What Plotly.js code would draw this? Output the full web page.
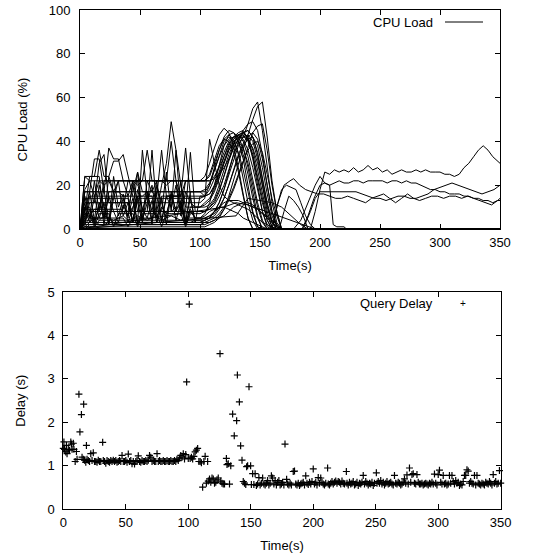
<!DOCTYPE html>
<html>
<head>
<meta charset="utf-8">
<script src="https://cdn.plot.ly/plotly-3.0.1.min.js"></script>
<style>html,body{margin:0;padding:0;background:#fff;}#chart{width:540px;height:558px;}</style>
</head>
<body>
<div id="chart"></div>
<script>
// ---------- CPU load: time grid shared by the node series ----------
var gridTime = [0,4,8,12,16,20,24,28,32,36,40,44,48,52,56,60,64,68,72,76,80,84,88,92,96,100,104,108,112,116,120,124,128,132,136,140,144,148,152,156,160,164,168,350];

var cpu01 = [0,24,24,24,36,24,24,17,17,15,15,3,15,15,17,17,15,3,15,15,15,15,3,17, 17,17,15,16,20,26,33,39,42,43,41,36,28,18,8,2,0,0,0, 0];
var cpu02 = [0,5,17,32,32,17,37,32,32,22,22,22,22,5,22,22,22,22,22,22,22,8,22,22, 22,22,22,24,30,36,41,43,44,42,37,28,17,6,0,0,0,0,0, 0];
var cpu03 = [0,8,24,24,24,5,24,31,31,34,25,15,15,15,15,15,3,15,15,15,15,15,15,15, 3,15,15,20,28,36,42,45,44,40,32,20,8,1,0,0,0,0,0, 0];
var cpu04 = [0,10,10,3,10,10,8,8,8,8,8,8,26,8,8,36,8,8,8,8,10,10,2,10, 10,10,12,14,18,24,30,36,40,42,42,41,37,30,20,10,3,0,0, 0];
var cpu05 = [0,3,3,5,5,5,5,5,5,5,1,5,5,5,5,5,8,20,30,49,36,20,10,10, 10,10,10,11,14,20,27,34,39,42,43,40,33,23,12,4,0,0,0, 0];
var cpu06 = [0,2,15,15,15,15,15,15,15,15,15,15,3,36,15,15,15,36,15,15,15,15,37,15, 15,15,15,16,19,25,31,37,41,43,44,41,34,24,13,4,0,0,0, 0];
var cpu07 = [0,0,2,2,2,2,3,3,3,3,3,3,3,3,3,3,3,3,3,3,3,3,3,3, 3,3,4,5,8,12,18,25,32,38,42,48,55,58,45,28,12,3,0, 0];
var cpu08 = [0,1,1,1,4,4,4,4,4,4,4,4,4,4,4,4,4,4,4,4,4,4,4,4, 4,4,4,5,6,9,14,20,27,34,39,43,50,56,58,42,22,8,0, 0];
var cpu09 = [0,6,6,9,9,9,9,9,9,9,22,22,22,22,22,22,22,22,22,22,22,22,22,22, 22,22,22,22,23,25,28,32,37,41,45,48,49,45,34,20,8,1,0, 0];
var cpu10 = [0,17,17,17,17,2,17,17,17,17,17,17,17,17,17,4,17,17,17,17,17,17,17,17, 17,17,17,20,27,34,40,42,40,35,27,17,7,1,0,0,0,0,0, 0];
var cpu11 = [0,3,12,12,30,34,12,12,12,12,12,8,8,8,8,8,8,8,26,8,8,8,8,35, 8,8,8,10,13,18,24,31,37,41,44,45,42,35,24,12,4,0,0, 0];
var cpu12 = [0,24,22,22,22,22,22,22,22,22,22,22,22,22,22,22,22,22,22,22,22,22,22,22, 22,22,22,25,32,38,41,40,35,26,15,5,0,0,0,0,0,0,0, 0];
var cpu13 = [0,5,8,8,8,8,8,8,8,8,8,20,8,8,8,8,8,8,8,8,36,8,8,8, 8,8,8,10,12,17,24,32,39,43,44,42,36,27,16,6,1,0,0, 0];
var cpu14 = [0,12,12,12,12,12,12,12,12,12,12,12,12,12,12,12,12,12,12,12,12,12,12,12, 12,12,14,41,30,20,15,13,12,11,10,9,7,5,3,2,1,0,0, 0];
var cpu15 = [0,1,3,3,3,3,3,3,3,3,3,3,3,3,3,3,3,3,3,3,3,3,3,3, 3,3,4,5,8,12,18,26,34,40,44,45,42,34,22,11,3,0,0, 0];
var cpu16 = [0,14,14,14,14,14,14,14,14,14,14,3,14,14,14,14,14,14,14,14,14,14,14,14, 14,14,15,18,23,29,35,40,42,43,40,33,23,12,4,0,0,0,0, 0];
var cpu17 = [0,2,5,5,5,5,5,3,3,3,3,3,3,3,3,3,3,3,3,3,3,3,3,3, 4,4,5,6,8,10,12,13,13,13,12,11,10,9,7,6,4,2,0, 0];
var cpu18 = [0,1,1,1,1,1,1,1,1,1,1,1,1,1,1,1,1,1,1,1,1,1,1,1, 1,1,1,2,3,5,9,15,22,30,37,42,44,41,32,20,8,2,0, 0];
var cpu19 = [0,9,9,9,9,22,22,22,22,22,22,22,22,22,36,22,22,22,22,40,22,22,22,22, 22,22,24,30,37,43,46,44,38,28,16,5,0,0,0,0,0,0,0, 0];
var cpu20 = [0,7,7,1,7,7,7,1,7,7,7,7,1,7,7,7,7,1,7,7,7,7,1,7, 7,7,8,9,11,15,20,27,34,39,42,43,40,32,20,8,1,0,0, 0];
var cpu21 = [0,17,17,17,17,17,17,17,17,17,17,17,26,17,17,17,17,17,17,17,17,17,17,17, 17,17,18,21,27,33,38,41,42,40,34,25,14,5,0,0,0,0,0, 0];
var cpu22 = [0,4,4,4,2,2,2,2,2,2,2,2,2,2,2,2,2,2,2,2,2,2,2,2, 2,2,3,3,4,5,6,8,10,11,12,12,11,9,7,5,3,1,0, 0];
var cpu23 = [0,10,3,15,5,12,2,17,6,14,3,10,15,4,12,20,5,14,2,16,8,13,3,9, 5,5,5,6,7,10,14,20,27,33,38,41,42,38,28,16,6,1,0, 0];
var cpu24 = [0,15,5,22,8,18,3,24,10,16,5,22,12,3,17,8,22,4,15,10,20,6,17,12, 10,10,11,13,17,23,30,36,39,40,37,30,20,10,3,0,0,0,0, 0];
var cpu25 = [0,8,17,4,20,10,2,14,22,6,12,3,18,9,15,2,20,12,5,17,8,22,4,14, 3,3,3,4,5,7,10,14,19,25,31,36,39,40,35,25,14,6,0, 0];
var cpu26 = [0,3,9,2,12,5,15,8,3,11,6,14,2,9,5,13,3,10,7,15,4,12,2,8, 5,5,7,12,20,29,38,43,41,34,23,12,4,0,0,0,0,0,0, 0];
var cpu27 = [0,2,2,2,2,2,2,2,2,2,2,2,2,2,2,2,2,2,2,2,2,2,2,2, 2,2,2,3,4,6,9,13,18,24,31,38,44,47,48,36,20,8,0, 0];
var cpu28 = [0,18,22,15,22,20,22,17,22,22,15,22,20,22,22,17,22,22,20,22,22,15,22,22, 22,22,22,22,24,28,33,38,42,44,45,41,32,20,8,1,0,0,0, 0];
var cpu29 = [0,4,6,5,4,6,5,4,5,6,4,5,6,5,4,5,6,4,5,6,5,4,5,5, 5,5,6,8,9,10,10,9,8,7,5,4,3,2,1,0,0,0,0, 0];

// ---------- CPU load: late-running nodes (own time stamps) ----------
var lateAx = [0,192,196,200,204,208,212,216,220,224,228,232,236,240,244,248,252,256,260,264,268,272,276,280,284,288,292,296,300,304,308,312,316,320,324,328,332,336,340,344,348,350];
var lateAy = [0,0,8,18,26,25,27,26,27,26,28,26,27,29,27,28,26,27,25,26,27,26,26,27,26,27,26,26,26,25,25,24,25,28,30,33,36,38,36,33,31,30];
var lateBx = [0,185,190,195,200,204,208,212,216,220,224,228,232,236,240,244,248,252,256,260,264,268,272,276,280,284,288,292,296,300,304,308,312,316,320,324,328,332,336,340,344,348,350];
var lateBy = [0,0,6,14,20,21,20,21,22,21,21,22,22,21,22,22,22,22,21,22,22,21,22,21,21,20,19,18,18,17,17,16,16,16,15,15,14,14,13,13,12,13,14];
var lateCx = [0,186,192,196,200,205,210,215,220,225,230,235,240,245,250,255,260,265,270,275,280,285,290,295,300,305,310,315,320,325,330,335,340,345,350];
var lateCy = [0,0,8,14,17,17,17,17,17,17,17,16,15,14,14,13,14,15,15,14,14,15,16,18,19,20,21,20,19,18,17,16,17,18,20];
var lateDx = [0,160,165,170,175,178,183,188,193,198,203,208,213,218,223,228,233,238,243,248,253,258,263,268,273,278,283,288,293,298,303,308,313,318,323,328,333,338,343,348,350];
var lateDy = [0,0,12,20,22,23,20,18,17,16,16,15,14,14,15,14,13,12,14,15,16,14,12,14,16,14,13,14,15,15,14,15,15,14,15,14,13,12,11,13,13];
var lateEx = [0,160,164,168,172,176,180,184,188,192,196,350];
var lateEy = [0,0,10,18,20,19,18,12,6,2,0,0];
var lateFx = [0,178,184,190,196,200,204,208,211,214,220,222,350];
var lateFy = [0,0,4,12,20,24,21,20,2,1,1,0,0];
var lateGx = [0,120,130,140,150,160,170,180,190,196,350];
var lateGy = [0,10,12,11,9,7,5,3,1,0,0];
var lateHx = [0,130,140,150,160,168,176,184,190,350];
var lateHy = [0,6,14,13,12,10,6,2,0,0];
var lateIx = [0,166,170,174,178,182,186,190,350];
var lateIy = [0,0,8,15,13,10,6,0,0];

// ---------- Query delay ----------
var delayTime = [0,0.5,1,2,2.5,3,4,5,6,6.5,7,8,8.5,9.5,10.5,11,12.5,13.3,14.5,16.3,18.5,15,16,17,18,19,20,21,22,23,24,25,26,27,28,29,30,31.5,32,33,34,35,36,37,38,39,40,41,42,43,44,45,46,47,48,49,50,51,52,53,54,55,56,57,58,59,60,61,62,63,64,65,66,67,68,69,70,71,72,73,74,75,76,77,78,79,80,81,82,83,84,85,86,87,88,89,90,91,92,93,94,95,96,97,98,98.7,100.8,100,101.5,102.5,103.5,104.5,105.5,106.5,107.5,108.5,109.5,110.5,111.5,112.5,113.5,114.5,115.5,116,117,118,119,120,121,122,123,124,125.4,126,127,128,129,130.5,131,132,133,134,135.5,136.8,138.7,139.3,140.9,141.9,143,144,145,146,146.7,147.5,148.6,149.9,150.5,151.5,152.5,153.5,154.5,155.5,156.5,157.5,158.5,159.5,160.5,161.5,162.5,163.5,164.5,165.5,166.5,167.5,168.5,169.5,170.5,171.5,172.5,173.5,174.5,175.5,176.5,177.4,178.7,179.5,180.5,181.5,182.5,184,185,186,187,188,189,190,191,192,193,194,195,196,197,198,199,200,201,202,203,204,205,206,207,208,209,210,211.5,212,213,214,215,216,217,218,219,220,221,222,223,224,225,226.5,227,228,229,230,231,232,233,234,235,236,237,238,239,240,241,242,243,244,245,246,247,248,249,250.5,251,252,253,254,255,256,257,258,259,260,261,262,263,264,265,266,267,268,269,270,271,272,273,274,275,276,277,278,279,280,281,282,283,284,285,286,287,288,289,290,291,292,293,294,295,296,297,298,299,300,301,302,303,304,305,306,307,308,309,310,311,312,313,314,315,316,317,318,319,320,321,322,323,324,325,326,327,328,329,330,331,332,333,334,335,336,337,338,339,340,341,342,343,344,345,346,347,348,349,350];
var delaySec = [1.40,1.55,1.38,1.32,1.47,1.28,1.38,1.36,1.55,1.50,1.38,1.52,1.38,1.10,1.33,1.15,2.65,1.78,2.18,2.42,1.47,1.20,1.15,1.13,1.08,1.15,1.12,1.10,1.28,1.12,1.30,1.10,1.10,1.08,1.13,1.10,1.10,1.54,1.12,1.10,1.06,1.12,1.10,1.08,1.12,1.10,1.13,1.10,1.12,1.08,1.10,1.12,1.10,1.24,1.10,1.10,1.12,1.08,1.27,1.10,1.12,1.05,1.10,1.04,1.10,1.12,1.23,1.10,1.08,1.12,1.10,1.10,1.12,1.10,1.13,1.24,1.20,1.10,1.12,1.10,1.10,1.28,1.10,1.12,1.10,1.10,1.12,1.10,1.10,1.12,1.10,1.10,1.12,1.10,1.10,1.12,1.10,1.15,1.12,1.18,1.24,1.20,1.28,1.16,1.26,2.93,4.72,1.17,1.17,1.20,1.16,1.22,1.32,1.36,1.40,1.10,1.10,1.07,0.51,1.10,1.22,0.60,1.10,0.65,0.70,0.62,0.72,0.70,0.60,0.62,0.68,0.72,3.58,0.65,0.60,0.58,0.58,1.17,1.03,1.05,0.58,1.00,2.19,1.69,2.04,3.09,2.47,1.46,1.13,0.64,0.60,0.57,0.98,1.00,2.82,1.00,0.57,0.82,0.57,0.82,0.55,0.58,0.73,0.56,0.60,0.72,0.58,0.56,0.60,0.66,0.56,0.60,0.77,0.72,0.58,0.66,0.56,0.62,0.66,0.56,0.58,0.62,0.56,1.50,0.69,0.58,0.56,0.60,0.56,0.87,0.88,0.58,0.56,0.60,0.55,0.58,0.60,0.62,0.56,0.77,0.60,0.57,0.62,0.58,0.64,0.93,0.58,0.62,0.56,0.73,0.60,0.72,0.62,0.58,0.56,0.60,0.95,0.58,0.56,0.60,0.64,0.58,0.62,0.65,0.60,0.64,0.62,0.58,0.65,0.60,0.58,0.87,0.60,0.56,0.62,0.58,0.60,0.64,0.56,0.58,0.62,0.55,0.60,0.58,0.62,0.78,0.58,0.64,0.60,0.56,0.60,0.58,0.62,0.55,0.60,0.84,0.60,0.64,0.60,0.66,0.58,0.62,0.56,0.60,0.64,0.58,0.60,0.62,0.58,0.56,0.78,0.60,0.58,0.62,0.60,0.56,0.58,0.62,0.70,0.60,0.79,0.58,0.95,0.62,0.80,0.82,0.60,0.58,0.80,0.62,0.58,0.58,0.60,0.56,0.58,0.60,0.58,0.56,0.60,0.58,0.62,0.58,0.81,0.60,0.56,0.80,0.90,0.62,0.58,0.78,0.58,0.60,0.56,0.58,0.78,0.60,0.78,0.64,0.58,0.66,0.60,0.62,0.55,0.58,0.56,0.64,0.78,0.78,0.91,0.88,0.60,0.64,0.60,0.58,0.78,0.56,0.78,0.60,0.58,0.56,0.60,0.58,0.56,0.62,0.60,0.58,0.64,0.60,0.56,0.80,0.60,0.64,0.58,0.60,0.89,0.60];

var xTicks = [0,50,100,150,200,250,300,350];
var cpuTicks = [0,20,40,60,80,100];
var delayTicks = [0,1,2,3,4,5];

// ---------- build ----------
var FONT = 'Liberation Sans, Arial, Helvetica, sans-serif';
var gridSeries = [cpu01,cpu02,cpu03,cpu04,cpu05,cpu06,cpu07,cpu08,cpu09,cpu10,cpu11,cpu12,cpu13,cpu14,cpu15,cpu16,cpu17,cpu18,cpu19,cpu20,cpu21,cpu22,cpu23,cpu24,cpu25,cpu26,cpu27,cpu28,cpu29];
var lateSeries = [[lateAx,lateAy],[lateBx,lateBy],[lateCx,lateCy],[lateDx,lateDy],[lateEx,lateEy],[lateFx,lateFy],[lateGx,lateGy],[lateHx,lateHy],[lateIx,lateIy]];
var traces = [];
gridSeries.forEach(function(s){
  traces.push({x: gridTime, y: s, type:'scatter', mode:'lines', line:{color:'#000', width:1}, xaxis:'x', yaxis:'y', showlegend:false, hoverinfo:'skip'});
});
lateSeries.forEach(function(s){
  traces.push({x: s[0], y: s[1], type:'scatter', mode:'lines', line:{color:'#000', width:1}, xaxis:'x', yaxis:'y', showlegend:false, hoverinfo:'skip'});
});
traces.push({x: delayTime, y: delaySec, type:'scatter', mode:'markers', xaxis:'x2', yaxis:'y2', showlegend:false,
  marker:{symbol:'cross-thin', size:5, color:'#000', line:{color:'#000', width:1.2}}, cliponaxis:false});

function axisCommon(){
  return {showline:true, linecolor:'#000', linewidth:1, mirror:'ticks', ticks:'inside', ticklen:5, tickcolor:'#000', tickwidth:1,
    showgrid:false, zeroline:false, tickfont:{family:FONT, size:13, color:'#000'}, fixedrange:true, automargin:false};
}
var xa = Object.assign(axisCommon(), {domain:[80/540, 500/540], range:[0,350], tickvals:xTicks, anchor:'y', ticklabelstandoff:1,
  title:{text:'Time(s)', font:{family:FONT, size:13, color:'#000'}, standoff:12}});
var ya = Object.assign(axisCommon(), {domain:[1-229/558, 1-10/558], range:[0,100], tickvals:cpuTicks, anchor:'x', ticklabelstandoff:6,
  title:{text:'CPU Load (%)', font:{family:FONT, size:13, color:'#000'}, standoff:18}});
var xa2 = Object.assign(axisCommon(), {domain:[63.3/540, 500.7/540], range:[0,350], tickvals:xTicks, anchor:'y2', ticklabelstandoff:1,
  title:{text:'Time(s)', font:{family:FONT, size:13, color:'#000'}, standoff:11}});
var ya2 = Object.assign(axisCommon(), {domain:[1-509.3/558, 1-292/558], range:[0,5], tickvals:delayTicks, anchor:'x2', ticklabelstandoff:5,
  title:{text:'Delay (s)', font:{family:FONT, size:13, color:'#000'}, standoff:18}});

var layout = {
  width:540, height:558, margin:{l:0,r:0,t:0,b:0}, paper_bgcolor:'#fff', plot_bgcolor:'#fff',
  font:{family:FONT, size:13, color:'#000'}, showlegend:false,
  xaxis:xa, yaxis:ya, xaxis2:xa2, yaxis2:ya2,
  annotations:[
    {xref:'paper', yref:'paper', x:435/540, y:1-22/558, xanchor:'right', yanchor:'middle', text:'CPU Load', showarrow:false, font:{family:FONT, size:13, color:'#000'}},
    {xref:'paper', yref:'paper', x:435/540, y:1-303/558, xanchor:'right', yanchor:'middle', text:'Query Delay', showarrow:false, font:{family:FONT, size:13, color:'#000'}},
    {xref:'paper', yref:'paper', x:463/540, y:1-303/558, xanchor:'center', yanchor:'middle', text:'+', showarrow:false, font:{family:FONT, size:10, color:'#000'}}
  ],
  shapes:[
    {type:'line', xref:'paper', yref:'paper', x0:445/540, x1:483/540, y0:1-22/558, y1:1-22/558, line:{color:'#000', width:1}}
  ]
};
Plotly.newPlot('chart', traces, layout, {staticPlot:true, displayModeBar:false});
</script>
</body>
</html>
